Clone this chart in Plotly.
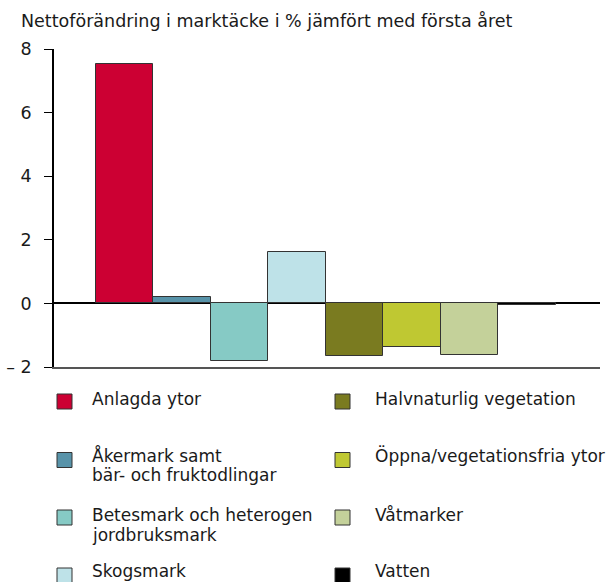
import plotly.graph_objects as go

# ---- data ----
categories = [
    "Anlagda ytor",
    "Åkermark samt<br>bär- och fruktodlingar",
    "Betesmark och heterogen<br>jordbruksmark",
    "Skogsmark",
    "Halvnaturlig vegetation",
    "Öppna/vegetationsfria ytor",
    "Våtmarker",
    "Vatten",
]
values = [7.52, 0.21, -1.81, 1.63, -1.64, -1.37, -1.61, -0.05]
colors = ["#CC0033", "#5893A9", "#86CAC5", "#BEE2E8",
          "#7A7B20", "#BFC832", "#C4D19A", "#000000"]
tick_vals = [-2, 0, 2, 4, 6, 8]
tick_text = ["– 2", "0", "2", "4", "6", "8"]
title_text = "Nettoförändring i marktäcke i % jämfört med första året"

FONT = "DejaVu Sans"
W, H = 613, 582
L, R, T, B = 54, 600, 49, 367


def px(x):
    return (x - L) / (R - L)


def py(y):
    return (B - y) / (B - T)


fig = go.Figure()
fig.add_trace(go.Bar(
    x=list(range(len(values))),
    y=values,
    width=1,
    marker=dict(color=colors, line=dict(color="#333333", width=1)),
    showlegend=False,
    hoverinfo="y",
))

fig.update_layout(
    width=W, height=H,
    margin=dict(l=L, r=W - R, t=T, b=H - B, pad=0, autoexpand=False),
    paper_bgcolor="white", plot_bgcolor="white",
    font=dict(family=FONT, size=17, color="#1a1a1a"),
    bargap=0,
    showlegend=False,
)
fig.update_xaxes(
    range=[-1.23, 8.27], showticklabels=False, ticks="",
    showgrid=False, zeroline=False, automargin=False,
    showline=True, linecolor="#555555", linewidth=2,
)
fig.update_yaxes(
    range=[-2, 8], tickvals=tick_vals, ticktext=tick_text,
    ticks="outside", ticklen=8, tickcolor="#000000", tickwidth=1,
    ticklabelstandoff=9, automargin=False,
    showgrid=False, showline=True, linecolor="#000000", linewidth=1.5,
    zeroline=True, zerolinecolor="#000000", zerolinewidth=1.5,
    tickfont=dict(family=FONT, size=17.5, color="#1a1a1a"),
)

annotations = [dict(
    text=title_text, xref="paper", yref="paper",
    x=px(19), y=py(9), xanchor="left", yanchor="top",
    showarrow=False, font=dict(family=FONT, size=17.5, color="#1a1a1a"),
)]
shapes = []

# legend layout (two columns, four rows)
col_marker_x = [57, 335]
col_text_x = [90, 373]
row_marker_cy = [401.5, 460, 517.5, 575.5]
row_baseline = [405, 461, 521, 577]
for i, (lab, col) in enumerate(zip(categories, colors)):
    c, r = divmod(i, 4)
    mx = col_marker_x[c]
    cy = row_marker_cy[r]
    shapes.append(dict(
        type="rect", xref="paper", yref="paper",
        x0=px(mx), x1=px(mx + 15), y0=py(cy - 7.5), y1=py(cy + 7.5),
        fillcolor=col, line=dict(color="#333333", width=1),
    ))
    for j, line in enumerate(lab.split("<br>")):
        base = row_baseline[r] + 20 * j
        annotations.append(dict(
            text=line, xref="paper", yref="paper",
            x=px(col_text_x[c]), y=py(base - 18), xanchor="left", yanchor="top",
            showarrow=False, font=dict(family=FONT, size=17, color="#1a1a1a"),
        ))

fig.update_layout(annotations=annotations, shapes=shapes)
fig.write_html("out.html", config={"displayModeBar": False},
               post_script="document.body.style.margin='0';")
